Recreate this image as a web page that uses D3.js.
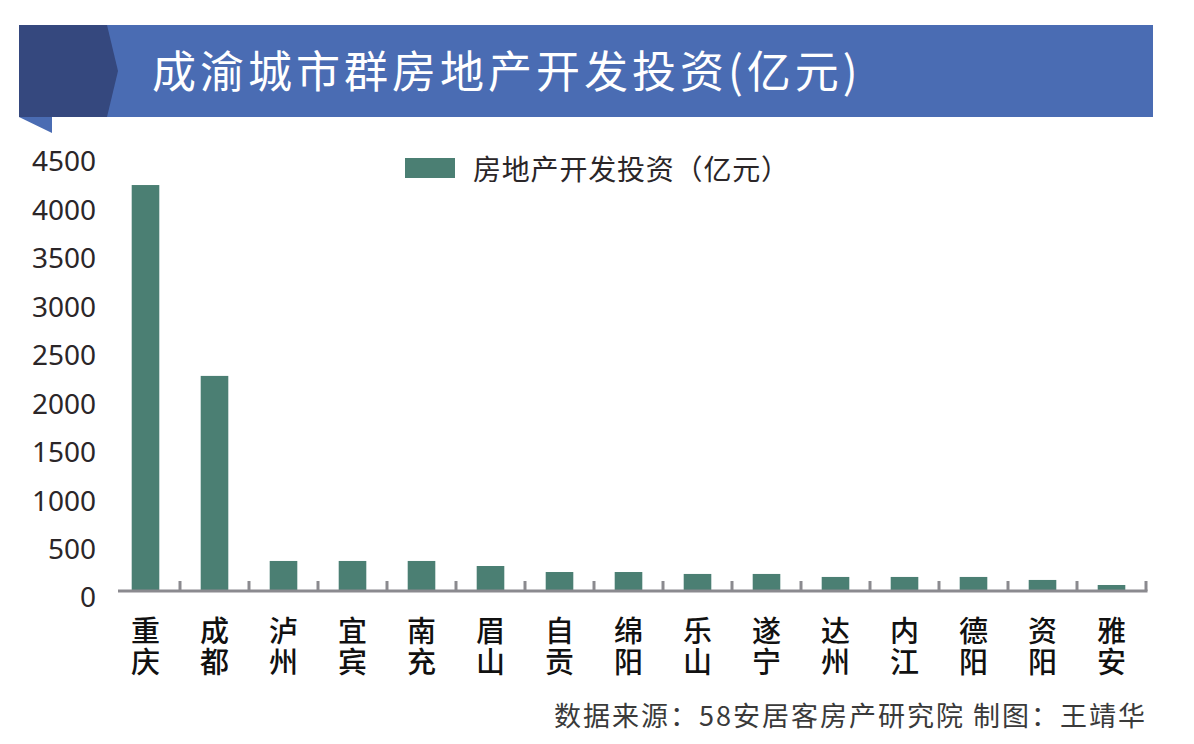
<!DOCTYPE html>
<html>
<head>
<meta charset="utf-8">
<script src="https://cdn.jsdelivr.net/npm/d3@7"></script>
<style>
  html, body { margin: 0; padding: 0; background: #ffffff; }
  svg { display: block; }
</style>
</head>
<body>
<svg id="chart" width="1194" height="744"></svg>
<script>
// ---- data ----
const titleText = "成渝城市群房地产开发投资(亿元)";
const seriesName = "房地产开发投资（亿元）";
const sourceText = "数据来源：58安居客房产研究院 制图：王靖华";
const cities = ["重庆","成都","泸州","宜宾","南充","眉山","自贡","绵阳","乐山","遂宁","达州","内江","德阳","资阳","雅安"];
const investment = [4190, 2220, 310, 310, 310, 258, 196, 196, 176, 176, 145, 145, 145, 114, 62];
const yTicks = [0, 500, 1000, 1500, 2000, 2500, 3000, 3500, 4000, 4500];

// ---- drawing ----
const svg = d3.select("#chart");
const cjk = "'Noto Sans CJK SC', 'Noto Sans', sans-serif";

// title banner
svg.append("rect").attr("x", 107).attr("y", 25).attr("width", 1046).attr("height", 92).attr("fill", "#4a6cb3");
svg.append("path").attr("d", "M19,25 L107,25 L118,71 L107,117 L19,117 Z").attr("fill", "#35487e");
svg.append("path").attr("d", "M19,117 L52,117 L52,133 Z").attr("fill", "#4a6cb3");
svg.append("text").attr("x", 152).attr("y", 88)
  .attr("font-family", cjk).attr("font-size", 44).attr("font-weight", 400)
  .attr("letter-spacing", 4)
  .attr("fill", "#ffffff").text(titleText);

// scales
const x = d3.scaleBand().domain(cities).range([111, 1146]).paddingInner(0.6).paddingOuter(0.3);
const y = d3.scaleLinear().domain([0, 4500]).range([591, 155]);

// bars
svg.append("g").selectAll("rect").data(cities).join("rect")
  .attr("x", d => x(d))
  .attr("width", x.bandwidth())
  .attr("y", (d, i) => y(investment[i]))
  .attr("height", (d, i) => y(0) - y(investment[i]))
  .attr("fill", "#4b7f73");

// y axis labels (no line)
const yAxis = d3.axisLeft(y).tickValues(yTicks).tickSize(0).tickPadding(0).tickFormat(d3.format("d"));
const gy = svg.append("g").attr("transform", "translate(96,7)").call(yAxis);
gy.select(".domain").remove();
gy.selectAll("text").attr("font-family", "'Noto Sans', 'Open Sans', sans-serif")
  .attr("font-size", 28).attr("fill", "#2b2628");

// x axis line + ticks between categories
const xAxisScale = d3.scaleLinear().domain([0, cities.length]).range([111, 1146]);
const gx = svg.append("g").attr("transform", "translate(0,591)");
gx.append("line").attr("x1", 118).attr("x2", 1147.5).attr("y1", 0).attr("y2", 0)
  .attr("stroke", "#8b8a8f").attr("stroke-width", 3);
gx.selectAll("line.tk").data(d3.range(1, cities.length + 1)).join("line").attr("class", "tk")
  .attr("x1", d => xAxisScale(d)).attr("x2", d => xAxisScale(d))
  .attr("y1", 0).attr("y2", -10)
  .attr("stroke", "#8b8a8f").attr("stroke-width", 3);

// category labels, written vertically
svg.append("g").selectAll("text").data(cities).join("text")
  .attr("font-family", cjk).attr("font-size", 29).attr("font-weight", 500)
  .attr("fill", "#111111")
  .style("writing-mode", "vertical-rl")
  .attr("letter-spacing", 2)
  .attr("x", d => x(d) + x.bandwidth() / 2)
  .attr("y", 616)
  .text(d => d);

// legend
svg.append("rect").attr("x", 405).attr("y", 158).attr("width", 50).attr("height", 20).attr("fill", "#4b7f73");
svg.append("text").attr("x", 473).attr("y", 180).attr("letter-spacing", 0.8)
  .attr("font-family", cjk).attr("font-size", 28).attr("fill", "#2b2628").text(seriesName);

// source
svg.append("text").attr("x", 1147).attr("y", 726).attr("text-anchor", "end")
  .attr("letter-spacing", 2)
  .attr("font-family", cjk).attr("font-size", 27).attr("fill", "#3a3a3a").text(sourceText);
</script>
</body>
</html>
